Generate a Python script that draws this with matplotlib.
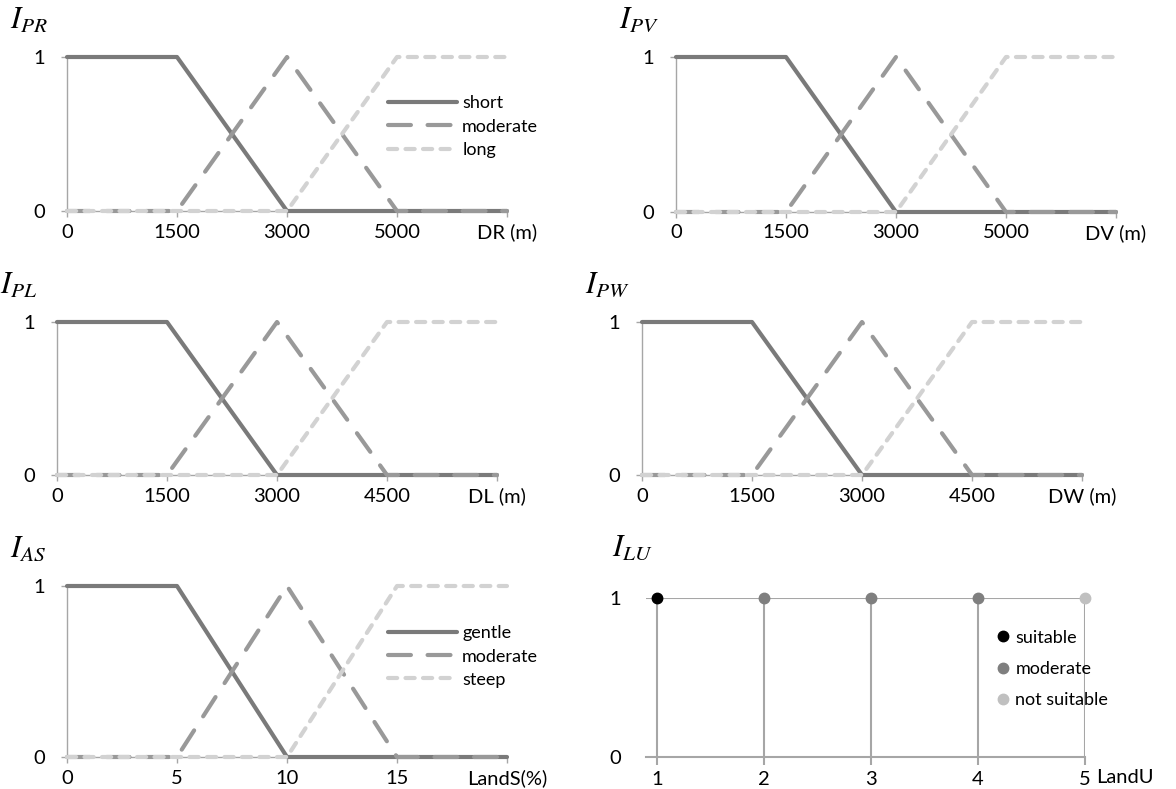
import matplotlib
matplotlib.use("Agg")
import matplotlib.pyplot as plt
from matplotlib.lines import Line2D

plt.rcParams['font.family'] = ['Lato', 'DejaVu Sans']
plt.rcParams['mathtext.fontset'] = 'stix'

W, H = 1176, 789

# data
short = [1, 1, 0, 0, 0]
moderate = [0, 0, 1, 0, 0]
long_ = [0, 0, 0, 1, 1]
dr_ticks = ['0', '1500', '3000', '5000', 'DR (m)']
dv_ticks = ['0', '1500', '3000', '5000', 'DV (m)']
dl_ticks = ['0', '1500', '3000', '4500', 'DL (m)']
dw_ticks = ['0', '1500', '3000', '4500', 'DW (m)']
lands_ticks = ['0', '5', '10', '15', 'LandS(%)']
dist_names = ['short', 'moderate', 'long']
slope_names = ['gentle', 'moderate', 'steep']

landu = [1, 2, 3, 4, 5]
landu_val = [1, 1, 1, 1, 1]
landu_class = ['suitable', 'moderate', 'moderate', 'moderate', 'not suitable']
class_names = ['suitable', 'moderate', 'not suitable']
class_colors = {'suitable': '#000000', 'moderate': '#7f7f7f', 'not suitable': '#c0c0c0'}

c_short, c_mod, c_long = '#7a7a7a', '#999999', '#d2d2d2'
axis_c = '#a6a6a6'
fs = 14.5
mod_ls = (0, (5.5, 4.0))
long_ls = (0, (2.2, 2.0))


def px_axes(x0, x1, ytop, ybot):
    return fig.add_axes([x0 / W, 1 - ybot / H, (x1 - x0) / W, (ybot - ytop) / H])


def fuzzy_panel(x0, x1, ytop, ybot, ticks, label, names=None, leg=None):
    ax = px_axes(x0, x1, ytop, ybot)
    x = range(len(ticks))
    ax.plot(x, short, color=c_short, lw=3, solid_capstyle='round', clip_on=False, zorder=3)
    ax.plot(x, moderate, color=c_mod, lw=3, linestyle=mod_ls,
            dash_capstyle='round', clip_on=False, zorder=4)
    ax.plot(x, long_, color=c_long, lw=3, linestyle=long_ls,
            dash_capstyle='round', clip_on=False, zorder=5)
    ax.set_xlim(0, len(ticks) - 1)
    ax.set_ylim(0, 1)
    ax.set_xticks(list(x))
    ax.set_xticklabels(ticks)
    ax.set_yticks([0, 1])
    ax.set_yticklabels(['0', '1'])
    for s in ['top', 'right']:
        ax.spines[s].set_visible(False)
    for s in ['left', 'bottom']:
        ax.spines[s].set_color(axis_c)
        ax.spines[s].set_linewidth(1)
    ax.tick_params(axis='both', colors=axis_c, labelcolor='black', labelsize=fs,
                   length=4, width=1)
    ax.tick_params(axis='x', pad=5)
    ax.tick_params(axis='y', pad=12)
    fig.text((x0 - 57) / W, 1 - (ytop - 37) / H, label, fontsize=22, va='center', ha='left')
    if names is not None:
        handles = [
            Line2D([], [], color=c_short, lw=3, solid_capstyle='round'),
            Line2D([], [], color=c_mod, lw=3, linestyle=mod_ls, dash_capstyle='round'),
            Line2D([], [], color=c_long, lw=3, linestyle=long_ls, dash_capstyle='round'),
        ]
        ax.legend(handles, names, loc='upper left', bbox_to_anchor=leg, frameon=False,
                  fontsize=13, handlelength=3.8, handletextpad=0.3, labelspacing=0.4,
                  borderpad=0, borderaxespad=0)
    return ax


fig = plt.figure(figsize=(W / 100, H / 100), dpi=100)

fuzzy_panel(67, 507, 57, 211, dr_ticks, r'$I_{PR}$', dist_names, (0.73, 0.75))
fuzzy_panel(676, 1116, 57, 212, dv_ticks, r'$I_{PV}$')
fuzzy_panel(57, 497, 322, 475, dl_ticks, r'$I_{PL}$')
fuzzy_panel(642, 1082, 322, 475, dw_ticks, r'$I_{PW}$')
fuzzy_panel(67, 507, 586, 757, lands_ticks, r'$I_{AS}$', slope_names, (0.73, 0.77))

# land use panel
x1u, x5u = 657, 1085
step = (x5u - x1u) / 4
ax = px_axes(x1u - 0.1 * step, x5u, 598, 757)
ax.set_xlim(0.9, 5)
ax.set_ylim(0, 1)
for v in landu:
    ax.axvline(v, color=axis_c, lw=1.5, zorder=1)
ax.axhline(1, color=axis_c, lw=1.5, zorder=1)
for xv, yv, cl in zip(landu, landu_val, landu_class):
    ax.plot(xv, yv, 'o', color=class_colors[cl], ms=7.5, clip_on=False, zorder=5)
for s in ['top', 'right', 'left']:
    ax.spines[s].set_visible(False)
ax.spines['bottom'].set_color(axis_c)
ax.spines['bottom'].set_linewidth(1.5)
ax.set_xticks(landu)
ax.set_yticks([0, 1])
ax.tick_params(axis='x', colors=axis_c, labelcolor='black', labelsize=fs, length=6, width=1.5, pad=4)
ax.tick_params(axis='y', length=0, labelsize=fs, pad=18)
ax.text(5.1, -0.13, 'LandU', fontsize=fs, ha='left', va='center')
handles = [Line2D([], [], ls='none', marker='o', ms=7.5, color=class_colors[c]) for c in class_names]
ax.legend(handles, class_names, loc='upper left', bbox_to_anchor=(0.8, 0.8), frameon=False,
          fontsize=13, handlelength=0.6, handletextpad=0.4, labelspacing=0.85,
          borderpad=0, borderaxespad=0)
fig.text(612 / W, 1 - 548 / H, r'$I_{LU}$', fontsize=22, va='center', ha='left')

fig.savefig('out.png', dpi=100)
